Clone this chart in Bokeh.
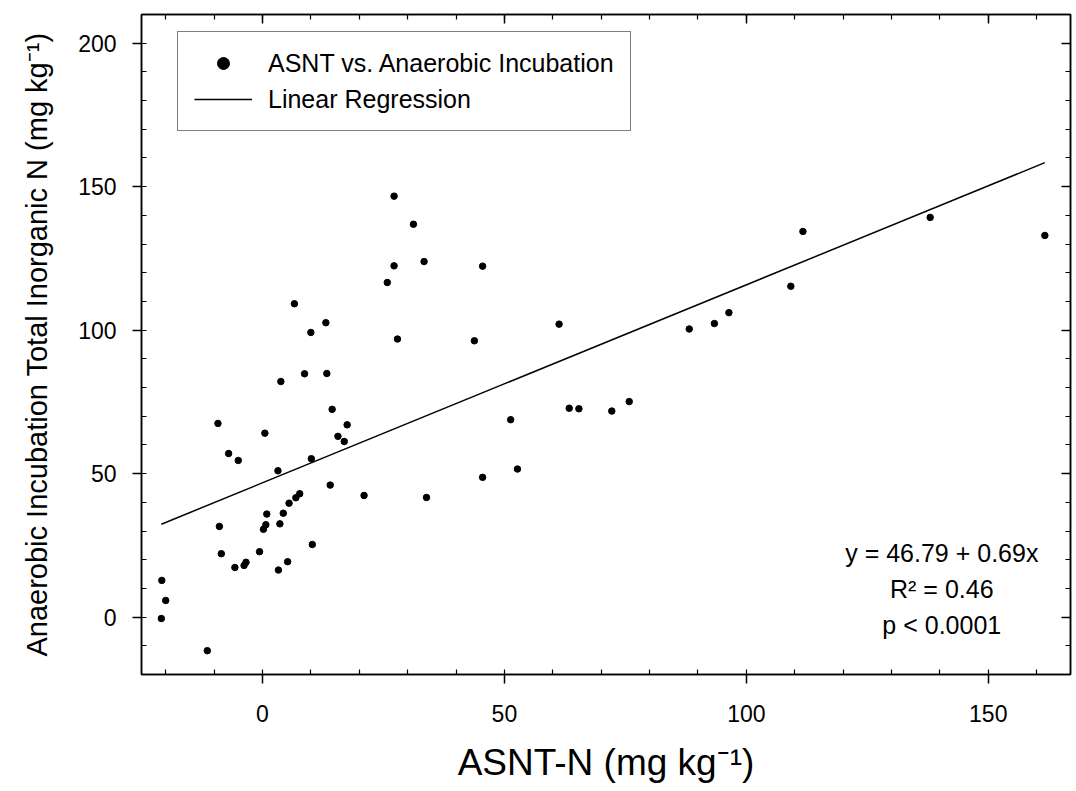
from bokeh.plotting import figure
from bokeh.models import (Range1d, LinearAxis, SingleIntervalTicker, Legend, LegendItem,
                          Label, CustomJSTickFormatter)
from bokeh.embed import file_html
from bokeh.resources import INLINE

# ---- data ----
asnt_n = [3.8, 8.7, 13.3, 14.4, 17.5, 15.6, 16.9, -9.2, 0.5, -7.0,
          -5.0, 10.1, 3.2, 14.0, 21.0, 7.7, 6.9, 5.5, 4.3, 0.9,
          3.6, 0.7, 0.2, -8.9, -8.5, -0.6, 10.3, -5.7, -3.8, -3.4,
          3.3, 5.2, -20.8, -20.0, -20.9, -11.4, 27.2, 31.2, 27.2, 33.4,
          45.5, 25.8, 6.6, 13.1, 10.0, 27.9, 43.8, 61.3, 88.2, 93.4,
          96.4, 63.4, 65.4, 72.2, 75.8, 51.3, 52.7, 45.5, 33.9, 109.2,
          111.7, 138.0, 161.7]
anaerobic_tin = [82.1, 84.8, 84.9, 72.4, 67.0, 63.0, 61.2, 67.5, 64.1, 57.0,
                 54.6, 55.2, 51.0, 46.0, 42.4, 43.0, 41.6, 39.7, 36.2, 35.9,
                 32.5, 32.2, 30.6, 31.6, 22.1, 22.8, 25.3, 17.3, 18.0, 19.1,
                 16.4, 19.3, 12.8, 5.8, -0.5, -11.7, 146.7, 136.9, 122.4, 123.9,
                 122.3, 116.6, 109.2, 102.6, 99.2, 96.9, 96.3, 102.1, 100.4, 102.3,
                 106.1, 72.8, 72.6, 71.8, 75.1, 68.8, 51.6, 48.7, 41.7, 115.3,
                 134.4, 139.3, 133.0]
intercept = 46.79
slope = 0.69
stats_lines = ["y = 46.79 + 0.69x", "R\u00b2 = 0.46", "p < 0.0001"]
series_names = ["ASNT vs. Anaerobic Incubation", "Linear Regression"]
x_title = "ASNT-N (mg kg\u207b\u00b9)"
y_title = "Anaerobic Incubation Total Inorganic N (mg kg\u207b\u00b9)"

FONT = "Liberation Sans"

p = figure(width=1072, height=791, output_backend="svg", toolbar_location=None,
           x_range=Range1d(-25, 167), y_range=Range1d(-20, 210),
           min_border_left=141, min_border_right=2, min_border_top=14, min_border_bottom=117)
p.xgrid.visible = False
p.ygrid.visible = False
p.outline_line_color = "black"
p.outline_line_width = 1.5
p.background_fill_color = "white"
p.border_fill_color = "white"

def style_main(ax, label, title_size):
    ax.ticker = SingleIntervalTicker(interval=50, num_minor_ticks=5)
    ax.axis_label = label
    ax.axis_label_text_font = FONT
    ax.axis_label_text_font_size = title_size
    ax.axis_label_text_font_style = "normal"
    ax.axis_label_text_color = "black"
    ax.major_label_text_font = FONT
    ax.major_label_text_font_size = "23px"
    ax.major_label_text_color = "black"
    ax.axis_line_width = 1.5
    ax.axis_line_color = "black"
    ax.major_tick_out = 9
    ax.major_tick_in = 0
    ax.minor_tick_out = 0
    ax.minor_tick_in = 5
    ax.major_tick_line_width = 1.5
    ax.minor_tick_line_width = 1.2
    ax.major_tick_line_color = "black"
    ax.minor_tick_line_color = "black"

style_main(p.xaxis[0], x_title, "37px")
style_main(p.yaxis[0], y_title, "29px")
p.xaxis[0].major_label_standoff = 21
p.xaxis[0].axis_label_standoff = 17
p.yaxis[0].major_label_standoff = 16
p.yaxis[0].axis_label_standoff = 22

blank = CustomJSTickFormatter(code="return ''")
for loc in ("above", "right"):
    ax = LinearAxis(ticker=SingleIntervalTicker(interval=50, num_minor_ticks=5),
                    formatter=blank, major_label_standoff=0,
                    major_tick_in=9, major_tick_out=0, minor_tick_in=5, minor_tick_out=0,
                    axis_line_width=1.5, major_tick_line_width=1.5, minor_tick_line_width=1.2,
                    major_label_text_font_size="1px")
    p.add_layout(ax, loc)

pts = p.scatter(asnt_n, anaerobic_tin, size=6.5, marker="circle",
                fill_color="black", line_color="black")
x_line = [min(asnt_n), max(asnt_n)]
y_line = [intercept + slope * v for v in x_line]
ln = p.line(x_line, y_line, line_color="black", line_width=1.5)

legend = Legend(items=[LegendItem(label=series_names[0], renderers=[pts]),
                       LegendItem(label=series_names[1], renderers=[ln])],
                location=(36, 543), margin=0, padding=16, spacing=6,
                glyph_width=58, glyph_height=30, label_height=30, label_standoff=16,
                label_text_font=FONT, label_text_font_size="25px", label_text_color="black",
                border_line_color="black", border_line_width=1.5,
                background_fill_alpha=1.0)
p.add_layout(legend)

for i, txt in enumerate(stats_lines):
    p.add_layout(Label(x=140.4, y=22.5 - 12.7 * i, text=txt, text_align="center",
                       text_baseline="middle", text_font=FONT, text_font_size="25px",
                       text_color="black"))

open("out.html", "w").write(file_html(p, INLINE))
